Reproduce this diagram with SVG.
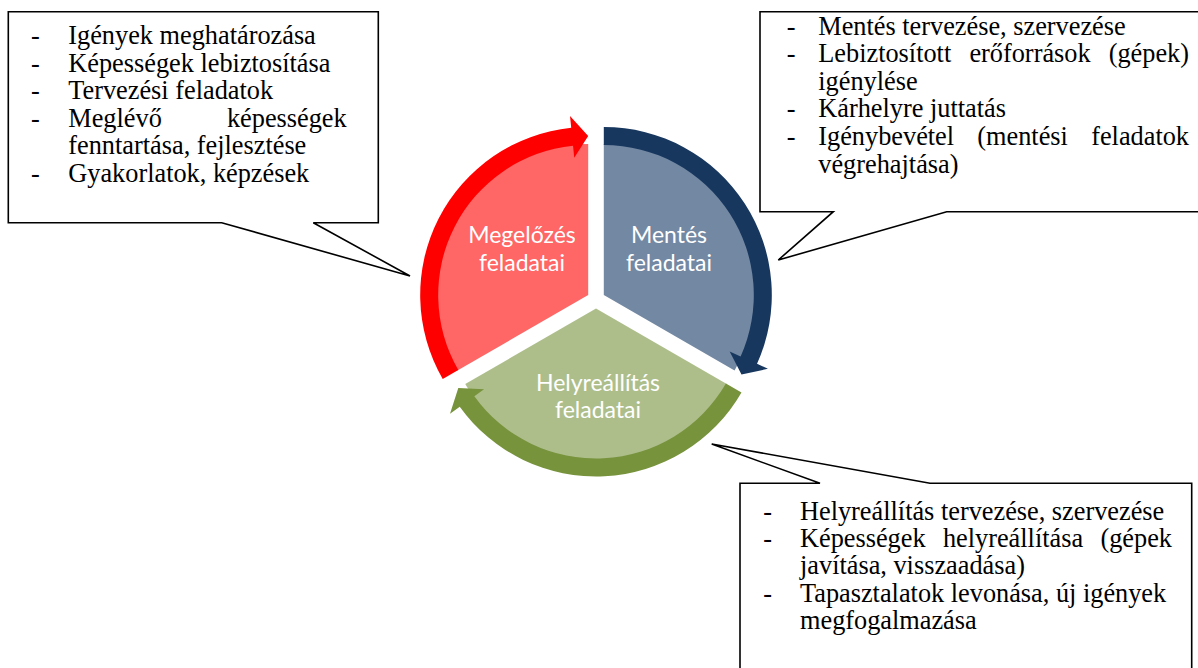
<svg xmlns="http://www.w3.org/2000/svg" width="1198" height="668" viewBox="0 0 1198 668">
  <style>
    .callout { fill: #ffffff; stroke: #000000; stroke-width: 1.6; stroke-linejoin: miter; }
    .note { font-family: "Liberation Serif", "Times New Roman", serif; font-size: 26.3px; fill: #000000; }
    .label { font-family: Lato, "Open Sans", "Liberation Sans", sans-serif; font-size: 23px; fill: #ffffff; text-anchor: middle; }
  </style>

  <!-- exploded pie segments -->
  <g id="node-megelozes">
    <path d="M 588.2 295 L 457.43 370.5 A 151 151 0 0 1 588.2 144 Z" fill="#ff6666"/>
    <text class="label" x="522" y="243">Megelőzés</text>
    <text class="label" x="522" y="270.7">feladatai</text>
  </g>
  <g id="node-mentes">
    <path d="M 603.8 295 L 603.8 144 A 151 151 0 0 1 734.57 370.5 Z" fill="#7388a2"/>
    <text class="label" x="669" y="243">Mentés</text>
    <text class="label" x="669" y="270.7">feladatai</text>
  </g>
  <g id="node-helyreallitas">
    <path d="M 596 308.5 L 726.77 384 A 151 151 0 0 1 465.23 384 Z" fill="#adbe8b"/>
    <text class="label" x="598" y="391">Helyreállítás</text>
    <text class="label" x="598" y="417.5">feladatai</text>
  </g>

  <!-- curved arrows running clockwise around the cycle -->
  <g id="connectors">
    <path d="M 442.71 379 A 168 168 0 0 1 571.22 127.86 L 570.01 115.92 L 588.2 136 L 574.25 157.71 L 573.04 145.77 A 150 150 0 0 0 458.3 370 Z" fill="#ff0000"/>
    <path d="M 603.8 127 A 168 168 0 0 1 757.04 363.87 L 767.98 368.79 L 741.5 374.5 L 729.67 351.57 L 740.62 356.49 A 150 150 0 0 0 603.8 145 Z" fill="#17375e"/>
    <path d="M 741.49 392.5 A 168 168 0 0 1 459.74 406.77 L 450.01 413.79 L 458.3 388 L 484.07 389.22 L 474.34 396.24 A 150 150 0 0 0 725.9 383.5 Z" fill="#77933c"/>
  </g>

  <!-- callout: prevention tasks -->
  <g id="callout-megelozes">
    <path class="callout" d="M 8.3 11.7 H 378.3 V 222.7 H 313.3 L 410 276 L 221.7 222.7 H 8.3 Z"/>
    <g class="note">
      <text x="31" y="44.3">-</text><text x="68.3" y="44.3">Igények meghatározása</text>
      <text x="31" y="71.7">-</text><text x="68.3" y="71.7">Képességek lebiztosítása</text>
      <text x="31" y="99">-</text><text x="68.3" y="99">Tervezési feladatok</text>
      <text x="31" y="126.7">-</text><text y="126.7"><tspan x="68.3">Meglévő</tspan><tspan x="346.7" text-anchor="end">képességek</tspan></text>
      <text x="68.3" y="154">fenntartása, fejlesztése</text>
      <text x="31" y="181.7">-</text><text x="68.3" y="181.7">Gyakorlatok, képzések</text>
    </g>
  </g>

  <!-- callout: rescue tasks -->
  <g id="callout-mentes">
    <path class="callout" d="M 760 11.7 H 1210 V 211.7 H 946.7 L 778.3 260 L 833.3 211.7 H 760 Z"/>
    <g class="note">
      <text x="786.7" y="35">-</text><text x="818.3" y="35">Mentés tervezése, szervezése</text>
      <text x="786.7" y="62.3">-</text><text y="62.3"><tspan x="818.3">Lebiztosított</tspan><tspan x="1030" text-anchor="middle">erőforrások</tspan><tspan x="1189" text-anchor="end">(gépek)</tspan></text>
      <text x="818.3" y="90">igénylése</text>
      <text x="786.7" y="117.3">-</text><text x="818.3" y="117.3">Kárhelyre juttatás</text>
      <text x="786.7" y="145">-</text><text y="145"><tspan x="818.3">Igénybevétel</tspan><tspan x="1022.6" text-anchor="middle">(mentési</tspan><tspan x="1189" text-anchor="end">feladatok</tspan></text>
      <text x="818.3" y="172.7">végrehajtása)</text>
    </g>
  </g>

  <!-- callout: recovery tasks -->
  <g id="callout-helyreallitas">
    <path class="callout" d="M 740 483.3 H 820 L 711.7 444 L 930 483.3 H 1191.7 V 680 H 740 Z"/>
    <g class="note">
      <text x="763.3" y="520">-</text><text x="800" y="520">Helyreállítás tervezése, szervezése</text>
      <text x="763.3" y="546.7">-</text><text y="546.7"><tspan x="800">Képességek</tspan><tspan x="1013" text-anchor="middle">helyreállítása</tspan><tspan x="1172" text-anchor="end">(gépek</tspan></text>
      <text x="800" y="574">javítása, visszaadása)</text>
      <text x="763.3" y="601.7">-</text><text x="800" y="601.7">Tapasztalatok levonása, új igények</text>
      <text x="800" y="629.3">megfogalmazása</text>
    </g>
  </g>
</svg>
